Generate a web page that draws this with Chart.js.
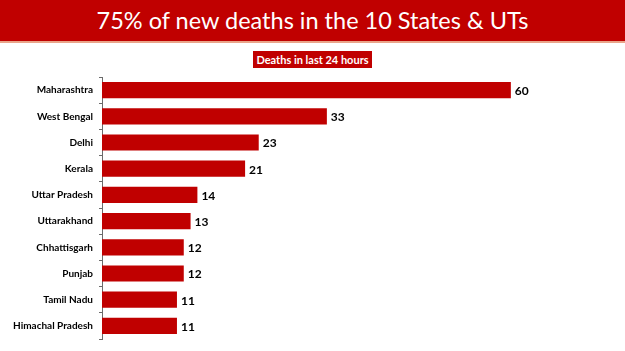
<!DOCTYPE html>
<html>
<head>
<meta charset="utf-8">
<script src="https://cdn.jsdelivr.net/npm/chart.js@4.4.1/dist/chart.umd.min.js"></script>
<style>
  body { margin: 0; background: #fff; }
  .page { position: relative; width: 625px; height: 351px; overflow: hidden; }
  .banner {
    position: absolute; left: 0; top: 0; width: 625px; height: 41px;
    background: #c00000; border-bottom: 2px solid #e9a58a;
    color: #fff; font-family: Lato, sans-serif; font-size: 23.5px;
    line-height: 41px; text-align: center;
  }
  .sub {
    position: absolute; left: 253px; top: 51px; width: 119px; height: 17px;
    background: #c00000; color: #fff; font-family: Lato, sans-serif;
    font-weight: bold; font-size: 11px; line-height: 17px; text-align: center;
  }
  .chart { position: absolute; left: 0; top: 0; width: 625px; height: 351px; }
</style>
</head>
<body>
<div class="page">
  <div class="banner">75% of new deaths in the 10 States &amp; UTs</div>
  <div class="sub">Deaths in last 24 hours</div>
  <div class="chart"><canvas id="c" width="625" height="351"></canvas></div>
</div>
<script>
//======================================================================
// Chart data: new deaths in the last 24 hours, top 10 States & UTs.
//======================================================================
var states = ['Maharashtra', 'West Bengal', 'Delhi', 'Kerala', 'Uttar Pradesh',
              'Uttarakhand', 'Chhattisgarh', 'Punjab', 'Tamil Nadu', 'Himachal Pradesh'];
var deaths = [60, 33, 23, 21, 14, 13, 12, 12, 11, 11];

var barRed = '#c00000';

/**
 * Draw the value just to the right of each bar.
 */
var valueLabels = {
  id: 'valueLabels',
  afterDatasetsDraw: function(chart) {
    var ctx = chart.ctx;
    var meta = chart.getDatasetMeta(0);
    ctx.save();
    ctx.font = 'bold 12px Lato, sans-serif';
    ctx.fillStyle = '#000';
    ctx.textBaseline = 'middle';
    meta.data.forEach(function(bar, i) {
      ctx.fillText(deaths[i], bar.x + 4, bar.y + 1);
    });
    ctx.restore();
  }
};

new Chart(document.getElementById('c'), {
  type: 'bar',
  data: {
    labels: states,
    datasets: [{
      data: deaths,
      backgroundColor: barRed,
      borderWidth: 0,
      categoryPercentage: 1,
      barPercentage: 0.62
    }]
  },
  options: {
    indexAxis: 'y',
    responsive: false,
    animation: false,
    layout: { padding: { top: 77, bottom: 11, left: 0, right: 46 } },
    plugins: { legend: { display: false }, tooltip: { enabled: false } },
    scales: {
      x: { display: false, min: 0, max: 70 },
      y: {
        afterFit: function(scale) { scale.width = 102; },
        border: { display: true, color: '#6b6b6b', width: 1 },
        grid: { display: true, drawOnChartArea: false, drawTicks: true,
                tickLength: 3, color: '#6b6b6b', offset: true },
        ticks: { color: '#000', padding: 6,
                 font: { family: 'Lato, sans-serif', size: 10, weight: 'bold' } }
      }
    }
  },
  plugins: [valueLabels]
});
</script>
</body>
</html>
